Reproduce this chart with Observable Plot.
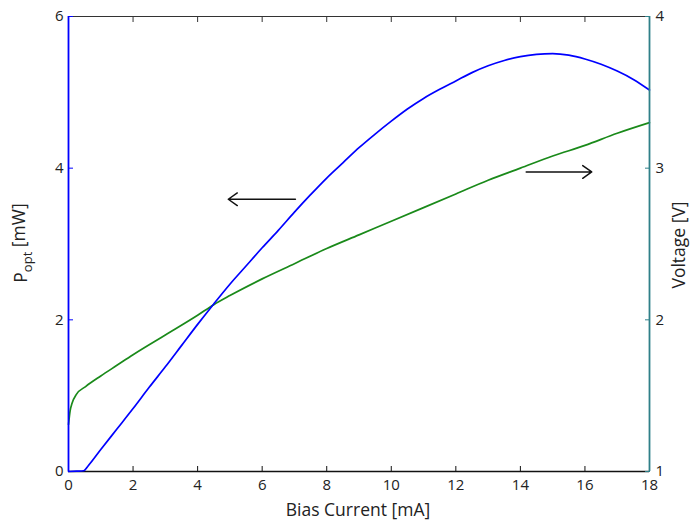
<!DOCTYPE html>
<html><head><meta charset="utf-8">
<script src="https://cdn.jsdelivr.net/npm/d3@7"></script>
<script src="https://cdn.jsdelivr.net/npm/@observablehq/plot@0.6"></script>
<style>body{margin:0;background:#fff} svg{display:block}</style>
</head><body><div id="chart"></div>
<script>
// Optical power (left axis) vs bias current
const powerCurrent = [0, 0.25, 0.47, 0.6, 1, 1.5, 2, 2.5, 3, 3.5, 4, 4.5, 5, 5.5, 6, 6.5, 7, 7.5, 8, 8.5, 9, 9.5, 10, 10.5, 11, 11.5, 12, 12.5, 13, 13.5, 14, 14.5, 15, 15.5, 16, 16.5, 17, 17.5, 18];
const powerMW = [0, 0.005, 0.01, 0.07, 0.29, 0.56, 0.83, 1.11, 1.38, 1.66, 1.94, 2.21, 2.47, 2.71, 2.95, 3.18, 3.42, 3.65, 3.87, 4.07, 4.27, 4.45, 4.62, 4.78, 4.92, 5.04, 5.15, 5.26, 5.35, 5.42, 5.47, 5.50, 5.51, 5.49, 5.44, 5.37, 5.28, 5.17, 5.03];
// Voltage (right axis) vs bias current
const voltCurrent = [0, 0.05, 0.11, 0.25, 0.53, 1, 1.5, 2, 3, 4, 4.5, 5, 6, 7, 8, 9, 10, 11, 12, 13, 14, 15, 16, 17, 18];
const voltageV = [1.31, 1.40, 1.45, 1.51, 1.56, 1.63, 1.70, 1.77, 1.90, 2.03, 2.10, 2.16, 2.27, 2.37, 2.47, 2.56, 2.65, 2.74, 2.83, 2.92, 3.00, 3.08, 3.15, 3.23, 3.30];
// Ticks
const xTicks = [0, 2, 4, 6, 8, 10, 12, 14, 16, 18];
const leftTicks = [0, 2, 4, 6];
const rightTicks = [1, 2, 3, 4];
const xDomain = [0, 18];
const leftDomain = [0, 6];
const rightDomain = [1, 4];
// Annotation arrows (x in mA, y in left-axis units)
const arrowX1 = [7.03, 14.18];
const arrowX2 = [4.95, 16.21];
const arrowY = [3.59, 3.95];

const vToLeft = v => (v - rightDomain[0]) / (rightDomain[1] - rightDomain[0]) * (leftDomain[1] - leftDomain[0]) + leftDomain[0];
const leftToV = p => (p - leftDomain[0]) / (leftDomain[1] - leftDomain[0]) * (rightDomain[1] - rightDomain[0]) + rightDomain[0];

const powerData = powerCurrent.map((c, i) => ({c, p: powerMW[i]}));
const voltData = voltCurrent.map((c, i) => ({c, v: voltageV[i]}));
const arrows = arrowX1.map((x1, i) => ({x1, x2: arrowX2[i], y: arrowY[i]}));

const BLUE = "#0000ff", GREEN = "#1a8a1a", TEAL = "#2f8089";

const chart = Plot.plot({
  width: 690, height: 522,
  marginLeft: 68, marginRight: 41, marginTop: 16, marginBottom: 51,
  style: {fontFamily: "'Open Sans', sans-serif", fontSize: "15px", background: "white", color: "#222"},
  x: {domain: xDomain},
  y: {domain: leftDomain},
  marks: [
    Plot.ruleY([leftDomain[1]], {stroke: "#333", strokeWidth: 1.2}),
    Plot.ruleY([leftDomain[0]], {stroke: "#111", strokeWidth: 1.6}),
    // top ticks (inward)
    Plot.axisX({anchor: "top", ticks: xTicks, tickSize: 5, insetTop: 5, tickFormat: () => "", label: null, stroke: "#333"}),
    // bottom ticks (inward) and labels
    Plot.axisX({anchor: "bottom", ticks: xTicks, tickSize: 5, insetBottom: 5, tickFormat: () => "", label: null, stroke: "#111"}),
    Plot.axisX({anchor: "bottom", ticks: xTicks, tickSize: 0, tickPadding: 8, tickFormat: d => String(d), label: null, fill: "#222"}),
    // left axis (blue)
    Plot.axisY({anchor: "left", ticks: leftTicks, tickSize: 5, insetLeft: 5, tickFormat: () => "", label: null, stroke: BLUE}),
    Plot.axisY({anchor: "left", ticks: leftTicks, tickSize: 0, tickPadding: 5, tickFormat: d => String(d), label: null, fill: "#222"}),
    // right axis (voltage)
    Plot.axisY({anchor: "right", ticks: rightTicks.map(vToLeft), tickSize: 5, insetRight: 5, tickFormat: () => "", label: null, stroke: TEAL}),
    Plot.axisY({anchor: "right", ticks: rightTicks.map(vToLeft), tickSize: 0, tickPadding: 6, tickFormat: d => String(Math.round(leftToV(d))), label: null, fill: "#222"}),
    Plot.line(voltData, {x: "c", y: d => vToLeft(d.v), stroke: GREEN, strokeWidth: 1.7, curve: "monotone-x"}),
    Plot.line(powerData, {x: "c", y: "p", stroke: BLUE, strokeWidth: 1.7, curve: "monotone-x"}),
    Plot.ruleX([xDomain[0]], {stroke: BLUE, strokeWidth: 1.8}),
    Plot.ruleX([xDomain[1]], {stroke: TEAL, strokeWidth: 1.8}),
    Plot.arrow(arrows, {x1: "x1", x2: "x2", y1: "y", y2: "y", stroke: "#111", strokeWidth: 1.5, headLength: 11, headAngle: 70})
  ]
});

const svg = d3.select(chart);
svg.selectAll("g[aria-label$='tick label'] text").style("font-size", "15px");
const font = "'Open Sans', sans-serif";
const yl = svg.append("text")
  .attr("transform", "translate(27,243) rotate(-90)")
  .attr("text-anchor", "middle")
  .attr("font-family", font).style("font-size", "17.5px").attr("fill", "#222");
yl.append("tspan").text("P");
yl.append("tspan").style("font-size", "13px").attr("dy", "0.35em").text("opt");
yl.append("tspan").attr("dy", "-0.35em").text(" [mW]");

svg.append("text")
  .attr("transform", "translate(685,245) rotate(-90)")
  .attr("text-anchor", "middle")
  .attr("font-family", font).style("font-size", "17.5px").attr("fill", "#222")
  .text("Voltage [V]");

svg.append("text")
  .attr("x", 358).attr("y", 516)
  .attr("text-anchor", "middle")
  .attr("font-family", font).style("font-size", "17.5px").attr("fill", "#222")
  .text("Bias Current [mA]");

document.getElementById("chart").append(chart);
</script>
</body></html>
